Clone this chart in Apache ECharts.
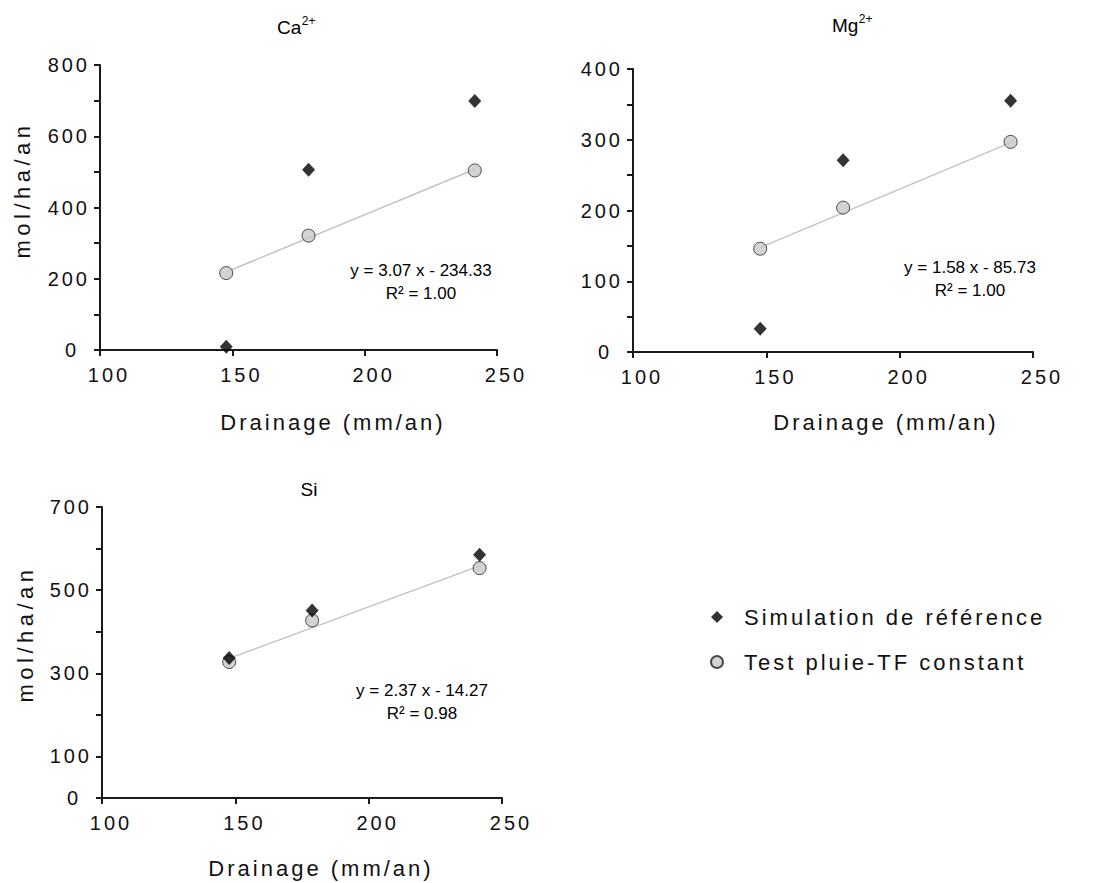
<!DOCTYPE html>
<html><head><meta charset="utf-8">
<script src="https://cdn.jsdelivr.net/npm/echarts@6/dist/echarts.min.js"></script>
<style>
html,body{margin:0;padding:0;background:#fff;}
#c{width:1093px;height:883px;}
#c text[style*="Arial"]{letter-spacing:3px;}
#c text[style*="Helvetica"]{letter-spacing:4.5px;}
</style></head><body><div id="c"></div>
<script>
// ---- data ----
const drainage = [147.7, 178.8, 241.6];
const caSim = [9, 506, 699];
const caTest = [216, 321, 504];
const mgSim = [33, 271, 355];
const mgTest = [146, 204, 297];
const siSim = [337, 451, 585];
const siTest = [327, 427, 553];
const caFit = [3.07, -234.33];
const mgFit = [1.58, -85.73];
const siFit = [2.37, -14.27];
const caEq = ['y = 3.07 x - 234.33', 'R² = 1.00'];
const mgEq = ['y = 1.58 x - 85.73', 'R² = 1.00'];
const siEq = ['y = 2.37 x - 14.27', 'R² = 0.98'];
const panelTitles = [['Ca', '2+'], ['Mg', '2+'], ['Si', '']];
const xTickLabels = [100, 150, 200, 250];
const caYTickLabels = [0, 200, 400, 600, 800];
const mgYTickLabels = [0, 100, 200, 300, 400];
const siYTickLabels = [0, 100, 300, 500, 700];
const seriesNames = ['Simulation de référence', 'Test pluie-TF constant'];
const xName = 'Drainage (mm/an)';
const yName = 'mol/ha/an';

// ---- styling ----
const SPACED = 'Arial, "Liberation Sans"';
const SPACED2 = 'Helvetica, "Liberation Sans"';
const PLAIN = '"Liberation Sans", sans-serif';
const AX = '#1a1a1a';

const grids = [
  {left: 100, top: 65, width: 397, height: 285},
  {left: 633, top: 69, width: 400, height: 283},
  {left: 102, top: 507, width: 400, height: 291}
];
const yCfg = [
  {max: 800, interval: 100, labels: caYTickLabels},
  {max: 400, interval: 50, labels: mgYTickLabels},
  {max: 700, interval: 100, labels: siYTickLabels}
];

const xAxes = grids.map((g, i) => ({
  type: 'value', gridIndex: i, min: 100, max: 250, interval: 50,
  axisLine: {show: true, onZero: false, lineStyle: {color: AX, width: 2}},
  axisTick: {show: true, length: 6, lineStyle: {color: AX, width: 2}},
  splitLine: {show: false},
  axisLabel: {
    margin: 15, color: '#111', fontSize: 20, fontFamily: SPACED, padding: [0, 0, 0, 18],
    formatter: v => xTickLabels.indexOf(v) >= 0 ? String(v) : ''
  }
}));
const yAxes = grids.map((g, i) => ({
  type: 'value', gridIndex: i, min: 0, max: yCfg[i].max, interval: yCfg[i].interval,
  axisLine: {show: true, onZero: false, lineStyle: {color: AX, width: 2}},
  axisTick: {show: true, length: 6, lineStyle: {color: AX, width: 2}},
  splitLine: {show: false},
  axisLabel: {
    margin: 10, color: '#111', fontSize: 20, fontFamily: SPACED,
    formatter: v => yCfg[i].labels.indexOf(v) < 0 ? '' : (v === 0 ? '{z|0}' : String(v)),
    rich: {z: {fontSize: 20, fontFamily: SPACED, color: '#111', padding: [0, 11, 0, 0]}}
  }
}));

function pts(ys) { return drainage.map((x, k) => [x, ys[k]]); }
function fitLine(f) {
  const x0 = drainage[0], x1 = drainage[drainage.length - 1];
  return [[x0, f[0] * x0 + f[1]], [x1, f[0] * x1 + f[1]]];
}
const simStyle = {color: '#000'};
const testStyle = {color: '#c8c8c8', borderColor: '#222', borderWidth: 1};

const sims = [caSim, mgSim, siSim];
const tests = [caTest, mgTest, siTest];
const fits = [caFit, mgFit, siFit];
const series = [];
for (let i = 0; i < 3; i++) {
  series.push({
    type: 'line', xAxisIndex: i, yAxisIndex: i, data: fitLine(fits[i]),
    showSymbol: false, symbol: 'none', silent: true, z: 1,
    lineStyle: {color: '#c4c4c4', width: 1.5}
  });
  series.push({
    name: seriesNames[1], type: 'scatter', xAxisIndex: i, yAxisIndex: i,
    data: pts(tests[i]), symbol: 'circle', symbolSize: 13, itemStyle: testStyle, z: 3
  });
  series.push({
    name: seriesNames[0], type: 'scatter', xAxisIndex: i, yAxisIndex: i,
    data: pts(sims[i]), symbol: 'diamond', symbolSize: [13, 14], itemStyle: simStyle, z: 4
  });
}

const measCtx = document.createElement('canvas').getContext('2d');
function textW(t, size) { measCtx.font = size + 'px "Liberation Sans"'; return measCtx.measureText(t).width; }
const T_MAIN = 19, T_SUP = 12;
function title(main, sup, cx, cy) {
  const wm = textW(main, T_MAIN), ws = sup ? textW(sup, T_SUP) : 0;
  const x0 = cx - (wm + ws) / 2;
  const els = [{
    type: 'text', x: x0, y: cy, silent: true,
    style: {text: main, align: 'left', verticalAlign: 'middle', fontSize: T_MAIN, fontFamily: PLAIN, fill: '#000'}
  }];
  if (sup) els.push({
    type: 'text', x: x0 + wm + 0.5, y: cy - 6, silent: true,
    style: {text: sup, align: 'left', verticalAlign: 'middle', fontSize: T_SUP, fontFamily: PLAIN, fill: '#000'}
  });
  return els;
}
function eq(lines, x, y) {
  return {
    type: 'text', x: x, y: y, silent: true,
    style: {
      text: lines.join('\n'), align: 'center', verticalAlign: 'top',
      fontSize: 17, lineHeight: 23, fontFamily: PLAIN, fill: '#000'
    }
  };
}
function axName(txt, x, y, rot) {
  return {
    type: 'text', x: x, y: y, rotation: rot ? Math.PI / 2 : 0, silent: true,
    style: {text: txt, align: 'center', verticalAlign: 'middle', fontSize: 22, fontFamily: rot ? SPACED2 : SPACED, fill: '#111'}
  };
}

const option = {
  backgroundColor: '#fff',
  animation: false,
  grid: grids.map(g => Object.assign({containLabel: false}, g)),
  xAxis: xAxes,
  yAxis: yAxes,
  legend: {
    data: [
      {name: seriesNames[0], icon: 'diamond'},
      {name: seriesNames[1], icon: 'circle'}
    ],
    orient: 'vertical', left: 705, top: 601, itemGap: 23,
    itemWidth: 12, itemHeight: 12, selectedMode: false,
    textStyle: {fontSize: 22, fontFamily: SPACED, color: '#111', padding: [0, 0, 0, 16]}
  },
  graphic: [].concat(
    title(panelTitles[0][0], panelTitles[0][1], 296, 27),
    title(panelTitles[1][0], panelTitles[1][1], 852, 25),
    title(panelTitles[2][0], panelTitles[2][1], 309, 489),
    [
      eq(caEq, 421, 259),
      eq(mgEq, 970, 256),
      eq(siEq, 422, 679),
      axName(xName, 333, 422, false),
      axName(xName, 886, 422, false),
      axName(xName, 321, 868, false),
      axName(yName, 22, 190, true),
      axName(yName, 25, 634, true)
    ]
  ),
  series: series
};
const chart = echarts.init(document.getElementById('c'), null, {renderer: 'svg'});
chart.setOption(option);
</script></body></html>
